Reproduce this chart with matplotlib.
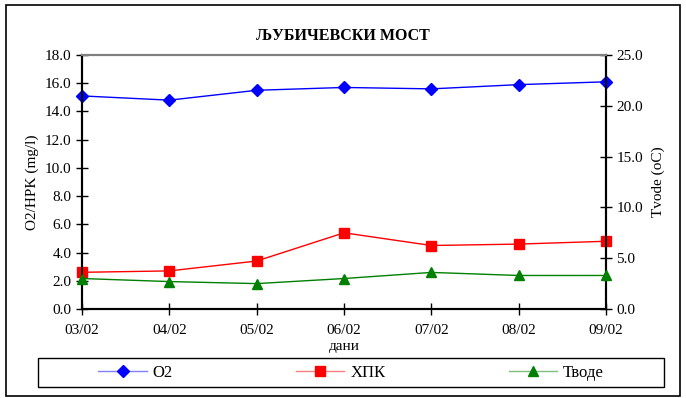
import matplotlib.pyplot as plt
from matplotlib.patches import Rectangle

plt.rcParams['font.family'] = ['Liberation Serif', 'DejaVu Serif']

days = ['03/02', '04/02', '05/02', '06/02', '07/02', '08/02', '09/02']
o2 = [15.1, 14.8, 15.5, 15.7, 15.6, 15.9, 16.1]
hpk = [2.6, 2.7, 3.4, 5.4, 4.5, 4.6, 4.8]
tvode = [3.0, 2.7, 2.5, 3.0, 3.6, 3.3, 3.3]

fig = plt.figure(figsize=(6.86, 3.98), dpi=100)
ax = fig.add_axes([82 / 686, 1 - 309 / 398, 524 / 686, 254 / 398])
ax2 = ax.twinx()

x = range(len(days))
l1, = ax.plot(x, o2, color='blue', marker='D', markersize=6, lw=1, label='O2', clip_on=False, zorder=5)
l2, = ax.plot(x, hpk, color='red', marker='s', markersize=7, lw=1, label='ХПК', clip_on=False, zorder=5)
l3, = ax2.plot(x, tvode, color='green', marker='^', markersize=7.5, lw=1, label='Тводе', clip_on=False, zorder=5)

ax.set_xlim(0, len(days) - 1)
ax.set_ylim(0, 18)
ax.set_yticks([0, 2, 4, 6, 8, 10, 12, 14, 16, 18])
ax.set_yticklabels([f'{v:.1f}' for v in ax.get_yticks()])
ax2.set_ylim(0, 25)
ax2.set_yticks([0, 5, 10, 15, 20, 25])
ax2.set_yticklabels([f'{v:.1f}' for v in ax2.get_yticks()])
ax.set_xticks(list(x))
ax.set_xticklabels(days)

for a in (ax, ax2):
    a.tick_params(direction='inout', length=8, width=1, labelsize=11, colors='black')
    a.spines['top'].set_color('#808080')
    a.spines['top'].set_linewidth(1.5)
    for s in ('left', 'right', 'bottom'):
        a.spines[s].set_linewidth(1.5)
ax.tick_params(axis='x', pad=7)

ax.set_xlabel('дани', fontsize=11, labelpad=2)
ax.set_ylabel('O2/HPK (mg/l)', fontsize=11, labelpad=4)
ax2.set_ylabel('Tvode (oC)', fontsize=11, labelpad=6)
fig.text(343 / 686, 1 - 36 / 398, 'ЉУБИЧЕВСКИ МОСТ', ha='center', va='center',
         fontsize=11.5, fontweight='bold')

leg = fig.legend([l1, l2, l3], ['O2', 'ХПК', 'Тводе'], ncol=3,
                 loc='center', fontsize=12, handlelength=2.9, handletextpad=0.35,
                 columnspacing=7.4,
                 bbox_to_anchor=(351 / 686, 1 - 373 / 398),
                 fancybox=False, frameon=False, borderaxespad=0)
light = {'blue': '#7f7fff', 'red': '#ff7f7f', 'green': '#7fbf7f'}
for h, line in zip(leg.legend_handles, (l1, l2, l3)):
    c = line.get_color()
    h.set_color(light[c])
    h.set_markerfacecolor(c)
    h.set_markeredgecolor(c)

fig.patches.append(Rectangle((38 / 686, 1 - 387 / 398), 626 / 686, 29 / 398, transform=fig.transFigure,
                             fill=False, edgecolor='black', lw=1))
fig.patches.append(Rectangle((6 / 686, 2 / 398), 674 / 686, 391 / 398, transform=fig.transFigure,
                             fill=False, edgecolor='black', lw=1.2))

fig.savefig('out.png', dpi=100)
